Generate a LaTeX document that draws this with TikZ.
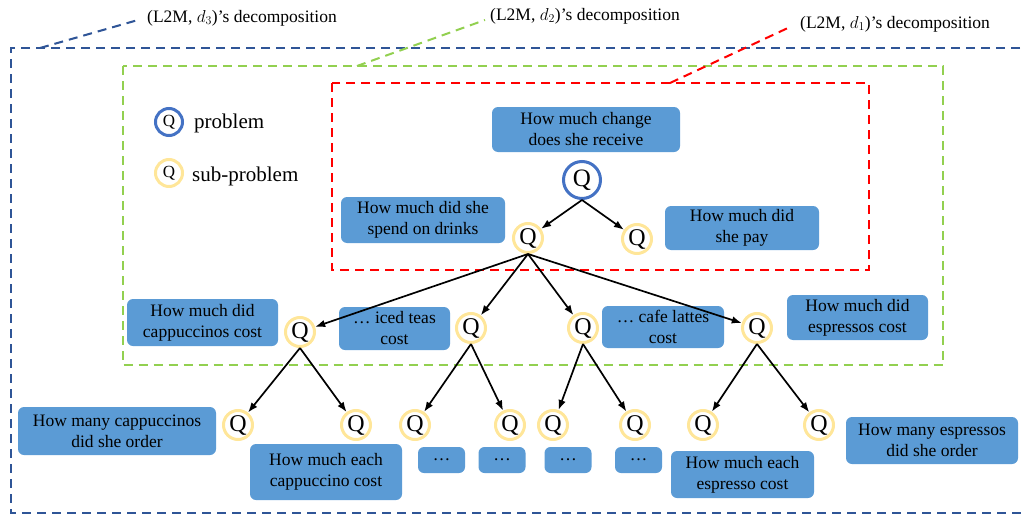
\documentclass[tikz,border=0pt]{standalone}
\usepackage{fontspec}
\setmainfont{Liberation Serif}
\usetikzlibrary{arrows.meta}
\definecolor{boxblue}{HTML}{5B9BD5}
\definecolor{rootblue}{HTML}{4472C4}
\definecolor{subyellow}{HTML}{FFE699}
\definecolor{frameblue}{HTML}{2F5597}
\definecolor{framegreen}{HTML}{92D050}
\definecolor{framered}{HTML}{FF0000}
\begin{document}
\begin{tikzpicture}[x=1pt,y=-1pt,
  qbox/.style={fill=boxblue, rounded corners=6pt, align=center, inner sep=0pt,
    font=\fontsize{17.5}{21}\selectfont},
  rootq/.style={circle, draw=rootblue, line width=3pt, minimum size=37pt, inner sep=0pt,
    font=\fontsize{25}{25}\selectfont},
  subq/.style={circle, draw=subyellow, line width=3pt, minimum size=29pt, inner sep=0pt,
    font=\fontsize{24}{24}\selectfont},
  legq/.style={circle, line width=3pt, minimum size=27pt, inner sep=0pt,
    font=\fontsize{17}{17}\selectfont},
  arr/.style={-{Latex[length=10pt,width=7.5pt]}, line width=1.7pt},
  frame/.style={dash pattern=on 9pt off 6pt, line width=2pt},
  lab/.style={anchor=base west, inner sep=0pt, font=\fontsize{17.5}{21}\selectfont},
  legtext/.style={anchor=base west, inner sep=0pt, font=\fontsize{21}{24}\selectfont}
]
\useasboundingbox (0,0) rectangle (1021,514);

% frames
\draw[frame, frameblue] (1035,48) -- (11,48) -- (11,513) -- (1035,513);
\draw[frame, framegreen] (122.5,66) rectangle (943,365);
\draw[frame, framered] (332,83) rectangle (869,270);

% frame labels
\node[lab] (lab3) at (147,22) {(L2M, $d_3$)’s decomposition};
\node[lab] (lab2) at (490,20) {(L2M, $d_2$)’s decomposition};
\node[lab] (lab1) at (800,28) {(L2M, $d_1$)’s decomposition};
\coordinate (f3) at (40,48);   \coordinate (l3) at (138,20);
\coordinate (f2) at (357,66);  \coordinate (l2) at (485,20);
\coordinate (f1) at (670,83);  \coordinate (l1) at (790,27);
\draw[frame, frameblue] (f3) -- (l3);
\draw[frame, framegreen] (f2) -- (l2);
\draw[frame, framered] (f1) -- (l1);

% legend
\node[legq, draw=rootblue] (legp) at (169,122) {Q};
\node[legq, draw=subyellow] (legs) at (169,173) {Q};
\node[legtext] (legpt) at (194,128) {problem};
\node[legtext] (legst) at (192,181) {sub-problem};

% text boxes
\node[qbox, minimum width=188pt, minimum height=45pt] (b1) at (586,129.5) {How much change\\does she receive};
\node[qbox, minimum width=164pt, minimum height=46pt] (b2) at (423,220) {How much did she\\spend on drinks};
\node[qbox, minimum width=154pt, minimum height=44pt] (b3) at (742,228) {How much did\\she pay};
\node[qbox, minimum width=151pt, minimum height=47pt] (b4) at (202.5,322.5) {How much did\\cappuccinos cost};
\node[qbox, minimum width=111pt, minimum height=43pt] (b5) at (394.5,328.5) {… iced teas\\cost};
\node[qbox, minimum width=122pt, minimum height=42pt] (b6) at (663,327) {… cafe lattes\\cost};
\node[qbox, minimum width=141pt, minimum height=45pt] (b7) at (857.5,317.5) {How much did\\espressos cost};
\node[qbox, minimum width=198pt, minimum height=48pt] (b8) at (117,431) {How many cappuccinos\\did she order};
\node[qbox, minimum width=152pt, minimum height=56pt] (b9) at (326,472) {How much each\\cappuccino cost};
\node[qbox, minimum width=47pt, minimum height=26pt] (d1) at (441.5,460) {…};
\node[qbox, minimum width=47pt, minimum height=26pt] (d2) at (502,460) {…};
\node[qbox, minimum width=47pt, minimum height=26pt] (d3) at (568,460) {…};
\node[qbox, minimum width=47pt, minimum height=26pt] (d4) at (638.5,460) {…};
\node[qbox, minimum width=143pt, minimum height=47pt] (b14) at (742.5,474.5) {How much each\\espresso cost};
\node[qbox, minimum width=172pt, minimum height=47pt] (b15) at (932,440.5) {How many espressos\\did she order};

% Q nodes
\node[rootq] (r) at (582,180) {Q};
\node[subq] (q1) at (528,238) {Q};
\node[subq] (q2) at (637,239) {Q};
\node[subq] (a1) at (300,332) {Q};
\node[subq] (a2) at (471,328) {Q};
\node[subq] (a3) at (583,328) {Q};
\node[subq] (a4) at (757,328) {Q};
\node[subq] (c1) at (238,425) {Q};
\node[subq] (c2) at (356,425) {Q};
\node[subq] (c3) at (415,425) {Q};
\node[subq] (c4) at (510,425) {Q};
\node[subq] (c5) at (553,425) {Q};
\node[subq] (c6) at (635,425) {Q};
\node[subq] (c7) at (703,425) {Q};
\node[subq] (c8) at (819,425) {Q};

% arrows
\draw[arr] (r.south) -- (q1);
\draw[arr] (r.south) -- (q2);
\foreach \t in {a1,a2,a3,a4} \draw[arr] (q1.south) -- (\t);
\draw[arr] (a1.south) -- (c1);
\draw[arr] (a1.south) -- (c2);
\draw[arr] (a2.south) -- (c3);
\draw[arr] (a2.south) -- (c4);
\draw[arr] (a3.south) -- (c5);
\draw[arr] (a3.south) -- (c6);
\draw[arr] (a4.south) -- (c7);
\draw[arr] (a4.south) -- (c8);
\end{tikzpicture}
\end{document}
